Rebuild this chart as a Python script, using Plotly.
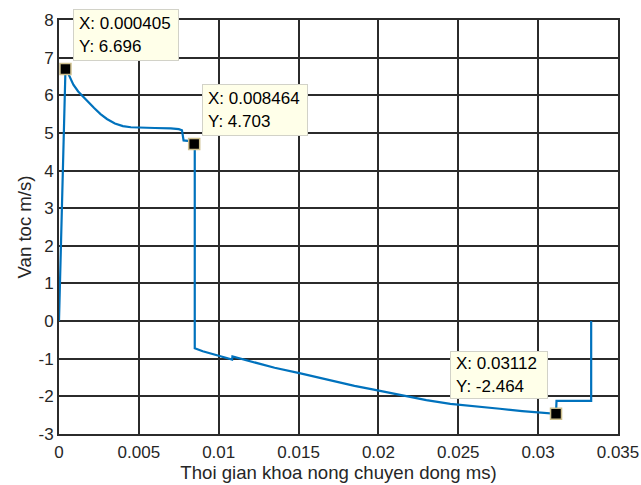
import plotly.graph_objects as go

# ---- data ----
time_s = [0.0, 0.000405, 0.0005, 0.0007, 0.0009, 0.0012, 0.0015, 0.0018, 0.0022, 0.0026,
          0.0030, 0.0035, 0.0040, 0.0045, 0.0050, 0.0060, 0.0070, 0.0075, 0.0077, 0.00775,
          0.0078, 0.0082, 0.00835, 0.008464, 0.0085, 0.0085, 0.0090, 0.0100, 0.01084, 0.01086,
          0.0120, 0.0135, 0.01512, 0.0170, 0.0185, 0.01971, 0.0214, 0.0230, 0.0245, 0.0260,
          0.0276, 0.0290, 0.0306, 0.03112, 0.03115, 0.03332, 0.03332]
velocity = [0.0, 6.696, 6.65, 6.45, 6.28, 6.10, 5.96, 5.84, 5.66, 5.50,
            5.37, 5.25, 5.18, 5.15, 5.14, 5.13, 5.12, 5.10, 5.07, 4.90,
            4.80, 4.78, 4.75, 4.703, 4.70, -0.72, -0.80, -0.92, -1.02, -0.94,
            -1.07, -1.24, -1.39, -1.58, -1.72, -1.82, -1.97, -2.10, -2.20, -2.27,
            -2.33, -2.39, -2.45, -2.464, -2.12, -2.12, 0.0]

tip_x = [0.000405, 0.008464, 0.03112]
tip_y = [6.696, 4.703, -2.464]
tip_labels = ["X: 0.000405<br>Y: 6.696", "X: 0.008464<br>Y: 4.703", "X: 0.03112<br>Y: -2.464"]

x_ticks = [0, 0.005, 0.01, 0.015, 0.02, 0.025, 0.03, 0.035]
x_ticktext = ["0", "0.005", "0.01", "0.015", "0.02", "0.025", "0.03", "0.035"]
y_ticks = [8, 7, 6, 5, 4, 3, 2, 1, 0, -1, -2, -3]
y_ticktext = ["8", "7", "6", "5", "4", "3", "2", "1", "0", "-1", "-2", "-3"]

x_title = "Thoi gian khoa nong chuyen dong ms)"
y_title = "Van toc m/s)"

FONT = "Liberation Sans, Arial, Helvetica, sans-serif"
GRID = "#2b2b2b"

fig = go.Figure()
fig.add_trace(go.Scatter(x=time_s, y=velocity, mode="lines",
                         line=dict(color="#0072BD", width=2.2), hoverinfo="skip"))
fig.add_trace(go.Scatter(x=tip_x, y=tip_y, mode="markers",
                         marker=dict(symbol="square", size=11, color="black",
                                     line=dict(color="#CDBF8E", width=1.5)),
                         hoverinfo="skip"))

# datatip boxes
shifts = [(7.7, 8, "left", 94, 40), (8, 8, "left", 94, 40), (-7.8, 14.8, "right", 86, 36)]
for xv, yv, txt, (xs, ys, xa, w, h) in zip(tip_x, tip_y, tip_labels, shifts):
    fig.add_annotation(x=xv, y=yv, text=txt, showarrow=False, xanchor=xa, yanchor="bottom",
                       xshift=xs, yshift=ys, align="left", width=w, height=h,
                       bgcolor="#FFFFE9", bordercolor="#D2D2C8", borderwidth=1, borderpad=5,
                       font=dict(family=FONT, size=17, color="black"))

fig.update_layout(
    width=641, height=485,
    margin=dict(l=58.5, r=23, t=20, b=51, pad=0),
    paper_bgcolor="white", plot_bgcolor="white",
    showlegend=False,
    font=dict(family=FONT, size=17, color="#262626"),
)
fig.update_xaxes(range=[0, 0.035], tickvals=x_ticks, ticktext=x_ticktext,
                 showgrid=True, gridcolor=GRID, gridwidth=1.6,
                 showline=True, linecolor=GRID, linewidth=2, mirror=True,
                 ticks="", zeroline=False, automargin=False, ticklabelstandoff=2,
                 title=dict(text=x_title, standoff=5, font=dict(size=18.6)),
                 tickfont=dict(size=17))
fig.update_yaxes(range=[-3, 8], tickvals=y_ticks, ticktext=y_ticktext,
                 showgrid=True, gridcolor=GRID, gridwidth=1.6,
                 showline=True, linecolor=GRID, linewidth=2, mirror=True,
                 ticks="", zeroline=False, automargin=False,
                 title=dict(text=y_title, standoff=2, font=dict(size=18.6)),
                 tickfont=dict(size=17))

fig.write_html("out.html")
